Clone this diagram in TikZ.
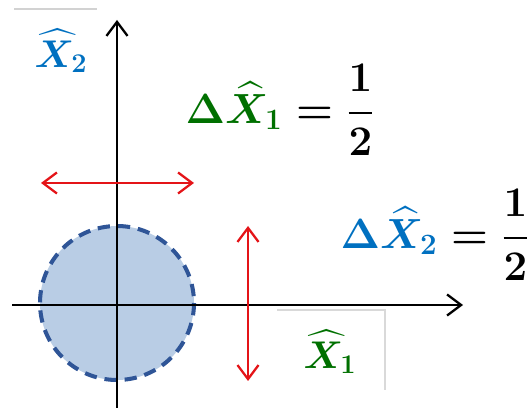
\RequirePackage{fix-cm}
\documentclass[tikz,border=0pt]{standalone}
\usepackage{amsmath}
\usepackage{tikz}
\usetikzlibrary{arrows.meta, positioning, calc}
\usepackage{xcolor}
\definecolor{qgreen}{RGB}{0,112,0}
\definecolor{qblue}{RGB}{0,112,192}
\definecolor{discfill}{RGB}{185,205,229}
\definecolor{discedge}{RGB}{47,85,151}
\definecolor{qred}{RGB}{228,20,24}

\begin{document}
\begin{tikzpicture}[x=0.02cm, y=-0.02cm,
    axis/.style={line width=1.3pt, -{Straight Barb[length=8pt, width=12pt]}},
    spread/.style={line width=1.3pt, qred,
        {Straight Barb[length=8pt, width=12pt]}-{Straight Barb[length=8pt, width=12pt]}},
    lab/.style={font=\fontsize{22}{26}\selectfont\boldmath, inner sep=0pt},
    eqlab/.style={font=\fontsize{24}{28}\selectfont\boldmath, inner sep=0pt}]
    \useasboundingbox (0,0) rectangle (531,408);

    % Faint frame edges
    \draw[gray!35, line width=0.6pt] (14,9) -- (97,9);
    \draw[gray!30, line width=0.6pt] (277,310) -- (385,310) -- (385,390);

    % Uncertainty disc
    \coordinate (o) at (117,305);
    \draw[fill=discfill, draw=discedge, line width=2.3pt,
          dash pattern=on 7pt off 4.5pt] (117,303) circle (77);

    % Axes
    \coordinate (xstart) at (12,305);
    \coordinate (xend) at (463,305);
    \coordinate (ystart) at (117,408);
    \coordinate (yend) at (117,20);
    \draw[axis] (xstart) -- (xend);
    \draw[axis] (ystart) -- (yend);

    % Widths
    \coordinate (hl) at (41,183);
    \coordinate (hr) at (194,183);
    \coordinate (vt) at (248,226);
    \coordinate (vb) at (248,381);
    \draw[spread] (hl) -- (hr);
    \draw[spread] (vt) -- (vb);

    % Labels
    \node[lab, text=qblue] (x2lab) at (61,51) {$\widehat{X}_2$};
    \node[lab, text=qgreen] (x1lab) at (330,352) {$\widehat{X}_1$};
    \node[eqlab] (dx1) at (280,110)
        {$\color{qgreen}\Delta\widehat{X}_1 \color{black}= \dfrac{1}{2}$};
    \node[eqlab] (dx2) at (435,235)
        {$\color{qblue}\Delta\widehat{X}_2 \color{black}= \dfrac{1}{2}$};
\end{tikzpicture}
\end{document}
